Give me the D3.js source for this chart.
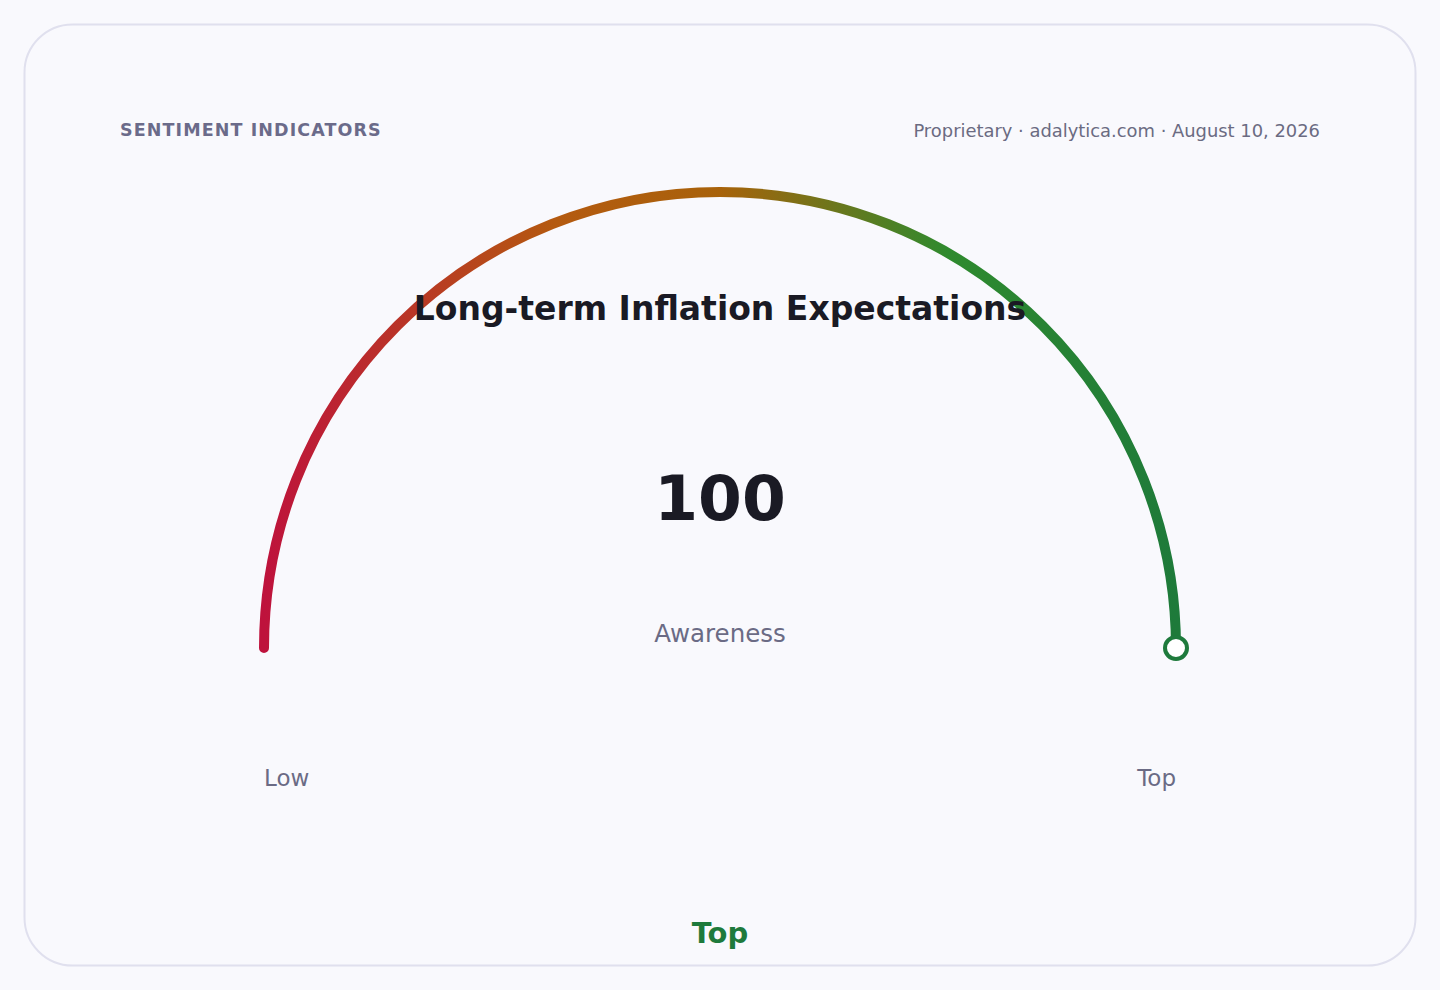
<!DOCTYPE html>
<html><head><meta charset="utf-8">
<script src="https://cdn.jsdelivr.net/npm/d3@7"></script>
<style>
html,body{margin:0;padding:0;background:#f9f9fd;}
svg{display:block;font-family:"DejaVu Sans",sans-serif;}
</style></head>
<body>
<svg id="c" width="1440" height="990"></svg>
<script>
const title = "Long-term Inflation Expectations";
const kicker = "SENTIMENT INDICATORS";
const source = "Proprietary · adalytica.com · August 10, 2026";
const value = [100];
const domain = [0, 100];
const rangeLabels = ["Low", "Top"];
const metricLabel = ["Awareness"];
const statusLabel = ["Top"];
const gradientColors = ["#be123c", "#b45a10", "#a8620a", "#2f8a2e", "#1e7a3a"];
const gradientOffsets = [0, 0.32, 0.5, 0.75, 1];

const svg = d3.select("#c");
svg.append("rect").attr("x",24.5).attr("y",24.5).attr("width",1391).attr("height",941)
  .attr("rx",48).attr("fill","#f9f9fd").attr("stroke","#e0e0ee").attr("stroke-width",2);

svg.append("text").attr("x",120).attr("y",136).attr("font-size",17.5).attr("font-weight","bold")
  .attr("letter-spacing",1.1).attr("fill","#6b6b8a").text(kicker);
svg.append("text").attr("x",1320).attr("y",137).attr("text-anchor","end").attr("font-size",17.9)
  .attr("fill","#6b6b82").text(source);

const cx = 720, cy = 648, R = 456;
const angle = d3.scaleLinear().domain(domain).range([-Math.PI/2, Math.PI/2]);

const defs = svg.append("defs");
const grad = defs.append("linearGradient").attr("id","g").attr("gradientUnits","userSpaceOnUse")
  .attr("x1",-R).attr("x2",R).attr("y1",0).attr("y2",0);
gradientColors.forEach((c,i)=>grad.append("stop").attr("offset",gradientOffsets[i]).attr("stop-color",c));

const g = svg.append("g").attr("transform",`translate(${cx},${cy})`);
const arcPath = d3.path();
const a0 = angle(domain[0]) - Math.PI/2, a1 = angle(value[0]) - Math.PI/2;
arcPath.arc(0,0,R,a0,a1,false);
g.append("path").attr("d",arcPath.toString()).attr("fill","none").attr("stroke","url(#g)")
  .attr("stroke-width",10).attr("stroke-linecap","round");

const ea = angle(value[0]);
g.append("circle").attr("cx",R*Math.sin(ea)).attr("cy",-R*Math.cos(ea)).attr("r",11)
  .attr("fill","#ffffff").attr("stroke","#1e7a3c").attr("stroke-width",4);

svg.append("text").attr("x",cx).attr("y",320).attr("text-anchor","middle").attr("font-size",33)
  .attr("font-weight","bold").attr("fill","#1a1a24").text(title);
svg.append("text").attr("x",cx).attr("y",520).attr("text-anchor","middle").attr("font-size",63)
  .attr("font-weight","bold").attr("fill","#1a1a24").text(value[0]);
svg.append("text").attr("x",cx).attr("y",642).attr("text-anchor","middle").attr("font-size",24.5)
  .attr("fill","#6b6b85").text(metricLabel[0]);

svg.append("text").attr("x",cx-R).attr("y",786).attr("font-size",23).attr("fill","#6b6b85").text(rangeLabels[0]);
svg.append("text").attr("x",cx+R).attr("y",786).attr("text-anchor","end").attr("font-size",23).attr("fill","#6b6b85").text(rangeLabels[1]);

svg.append("text").attr("x",cx).attr("y",943).attr("text-anchor","middle").attr("font-size",29)
  .attr("font-weight","bold").attr("fill","#1e7a3c").text(statusLabel[0]);
</script>
</body></html>
